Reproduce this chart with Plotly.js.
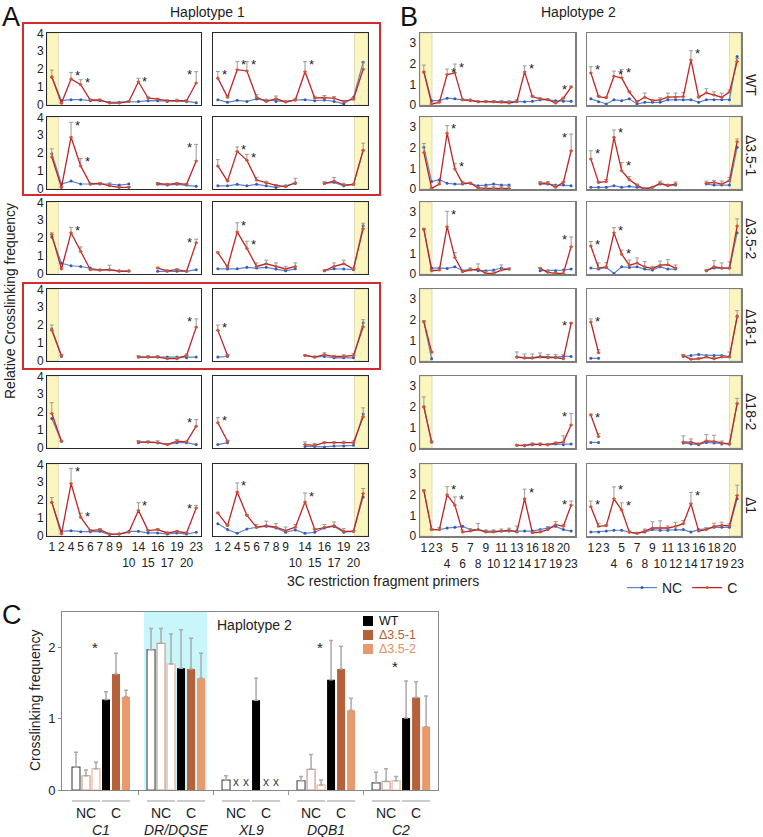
<!DOCTYPE html>
<html><head><meta charset="utf-8">
<script src="https://cdn.plot.ly/plotly-3.0.1.min.js"></script>
<style>html,body{margin:0;padding:0;background:#fff}#chart{width:763px;height:837px}</style>
</head><body><div id="chart"></div>
<script>
// ---------- categories / tick labels ----------
const catsA = ['1','2','4','5','6','7','8','9','10','14','15','16','17','19','20','23'];
const tickA = ['1','2','4','5','6','7','8','9','<br>10','14','<br>15','16','<br>17','19','<br>20','23'];
const catsB = ['1','2','3','4','5','6','7','8','9','10','11','12','13','14','16','17','18','19','20','23'];
const tickB = ['1','2','3','<br>4','5','<br>6','7','<br>8','9','<br>10','11','<br>12','13','<br>14','16','<br>17','18','<br>19','20','<br>23'];
const _ = null;

// ---------- Panel A (Haplotype 1) ----------
const A1L_C  = [1.58,0.10,1.45,1.13,0.28,0.28,0.11,0.11,0.20,1.30,0.39,0.32,0.24,0.24,0.24,1.23];
const A1L_NC = [1.55,0.24,0.30,0.30,0.24,0.24,0.15,0.15,0.19,0.19,0.24,0.24,0.20,0.24,0.20,0.13];
const A1L_E  = [0.37,0.05,0.37,0.28,0.05,0.05,0.04,0.04,0.05,0.19,0.06,0.06,0.05,0.08,0.05,0.63];
const A1L_S  = ['4','5','14','23'];
const A1R_C  = [1.50,0.43,1.97,1.90,0.43,0.19,0.35,0.17,0.28,1.86,0.39,0.41,0.37,0.20,0.32,2.00];
const A1R_NC = [0.30,0.15,0.26,0.20,0.33,0.28,0.20,0.19,0.28,0.30,0.24,0.28,0.20,0.06,0.43,2.38];
const A1R_E  = [0.37,0.08,0.45,0.52,0.15,0.10,0.15,0.06,0.10,0.56,0.10,0.12,0.10,0.06,0.10,0.40];
const A1R_S  = ['1','4','5','14'];
const A2L_C  = [1.79,0.09,2.89,1.29,0.28,0.31,0.18,0.09,0.09,_,_,0.31,0.26,0.31,0.26,1.57];
const A2L_NC = [1.97,0.28,0.44,0.28,0.28,0.28,0.28,0.22,0.28,_,_,0.26,0.22,0.26,0.22,0.15];
const A2L_E  = [0.45,0.05,0.83,0.41,0.05,0.05,0.15,0.05,0.05,_,_,0.05,0.05,0.05,0.05,0.92];
const A2L_S  = ['4','5','23'];
const A2R_C  = [1.29,0.44,2.10,1.60,0.50,0.33,0.20,0.13,0.35,_,_,0.31,0.44,0.22,0.26,2.16];
const A2R_NC = [0.18,0.18,0.26,0.18,0.26,0.18,0.09,0.18,0.31,_,_,0.31,0.37,0.18,0.26,2.16];
const A2R_E  = [0.35,0.05,0.25,0.33,0.15,0.10,0.05,0.05,0.25,_,_,0.10,0.20,0.10,0.05,0.40];
const A2R_S  = ['4','5'];
const A3L_C  = [2.20,0.28,2.30,1.25,0.24,0.22,0.24,0.15,0.15,_,_,0.33,0.18,0.24,0.15,1.74];
const A3L_NC = [2.07,0.60,0.46,0.42,0.33,0.22,0.24,0.18,0.18,_,_,0.15,0.15,0.15,0.15,0.24];
const A3L_E  = [0.10,0.05,0.30,0.26,0.05,0.05,0.25,0.05,0.05,_,_,0.05,0.05,0.05,0.05,0.20];
const A3L_S  = ['4','23'];
const A3R_C  = [1.19,0.39,2.35,1.43,0.42,0.57,0.42,0.28,0.42,_,_,0.18,0.42,0.57,0.28,2.53];
const A3R_NC = [0.29,0.28,0.29,0.37,0.33,0.37,0.28,0.18,0.29,_,_,0.18,0.29,0.28,0.24,2.70];
const A3R_E  = [0.05,0.08,0.51,0.40,0.20,0.20,0.20,0.15,0.20,_,_,0.05,0.20,0.20,0.05,0.30];
const A3R_S  = ['4','5'];
const A4L_C  = [1.71,0.31,_,_,_,_,_,_,_,0.22,0.22,0.22,0.13,0.13,0.31,1.89];
const A4L_NC = [1.80,0.25,_,_,_,_,_,_,_,0.22,0.22,0.22,0.22,0.22,0.18,0.22];
const A4L_E  = [0.30,0.05,_,_,_,_,_,_,_,0.08,0.08,0.08,0.05,0.08,0.08,0.46];
const A4L_S  = ['23'];
const A4R_C  = [1.71,0.31,_,_,_,_,_,_,_,0.31,0.22,0.36,0.25,0.25,0.31,1.91];
const A4R_NC = [0.22,0.25,_,_,_,_,_,_,_,0.31,0.22,0.25,0.18,0.18,0.18,2.13];
const A4R_E  = [0.30,0.05,_,_,_,_,_,_,_,0.05,0.05,0.10,0.05,0.10,0.10,0.40];
const A4R_S  = ['1'];
const A5L_C  = [1.93,0.38,_,_,_,_,_,_,_,0.34,0.34,0.30,0.19,0.38,0.34,1.22];
const A5L_NC = [1.65,0.38,_,_,_,_,_,_,_,0.30,0.34,0.30,0.19,0.30,0.30,0.19];
const A5L_E  = [0.60,0.05,_,_,_,_,_,_,_,0.08,0.05,0.10,0.05,0.10,0.05,0.37];
const A5L_S  = ['23'];
const A5R_C  = [1.41,0.38,_,_,_,_,_,_,_,0.19,0.15,0.30,0.30,0.30,0.30,1.74];
const A5R_NC = [0.19,0.30,_,_,_,_,_,_,_,0.09,0.09,0.06,0.11,0.11,0.15,1.90];
const A5R_E  = [0.28,0.05,_,_,_,_,_,_,_,0.15,0.10,0.05,0.05,0.08,0.10,0.50];
const A5R_S  = ['1'];
const A6L_C  = [1.88,0.11,2.93,1.05,0.30,0.36,0.11,0.11,0.21,1.43,0.30,0.36,0.17,0.26,0.17,1.56];
const A6L_NC = [1.88,0.26,0.30,0.24,0.24,0.26,0.08,0.11,0.26,0.26,0.17,0.17,0.11,0.17,0.11,0.21];
const A6L_E  = [0.26,0.05,0.85,0.23,0.05,0.05,0.04,0.05,0.05,0.43,0.05,0.05,0.05,0.05,0.05,0.15];
const A6L_S  = ['4','5','14','23'];
const A6R_C  = [1.28,0.58,2.46,1.15,0.49,0.58,0.49,0.30,0.49,1.90,0.36,0.49,0.58,0.26,0.26,2.37];
const A6R_NC = [0.68,0.36,0.15,0.39,0.49,0.54,0.45,0.21,0.34,0.15,0.21,0.45,0.53,0.21,0.26,2.18];
const A6R_E  = [0.05,0.05,0.50,0.05,0.15,0.25,0.20,0.20,0.15,0.50,0.05,0.15,0.20,0.15,0.05,0.28];
const A6R_S  = ['4','14'];

// ---------- Panel B (Haplotype 2) ----------
const B1L_C  = [1.61,0.05,0.13,1.48,1.56,0.25,0.21,0.16,0.16,0.16,0.13,0.10,0.16,1.61,0.41,0.30,0.26,0.10,0.33,0.87];
const B1L_NC = [1.61,0.21,0.21,0.33,0.30,0.25,0.25,0.16,0.18,0.16,0.16,0.16,0.18,0.16,0.18,0.25,0.25,0.21,0.18,0.18];
const B1L_E  = [0.33,0.10,0.05,0.27,0.43,0.05,0.05,0.05,0.05,0.05,0.08,0.10,0.10,0.29,0.05,0.05,0.05,0.05,0.05,0.05];
const B1L_S  = ['4','5','14','23'];
const B1R_C  = [1.56,0.41,0.35,1.40,1.32,0.63,0.16,0.38,0.21,0.25,0.38,0.38,0.41,2.19,0.38,0.59,0.49,0.38,0.63,2.11];
const B1R_NC = [0.30,0.16,0.05,0.25,0.21,0.30,0.05,0.13,0.13,0.13,0.25,0.25,0.25,0.26,0.13,0.26,0.26,0.26,0.26,2.36];
const B1R_E  = [0.30,0.05,0.05,0.25,0.41,0.05,0.05,0.20,0.05,0.10,0.20,0.20,0.20,0.45,0.05,0.20,0.15,0.20,0.10,0.15];
const B1R_S  = ['1','4','5','14'];
const B2L_C  = [1.78,0.03,0.24,2.71,0.97,0.28,0.28,0.05,0.03,0.03,0.03,0.03,_,_,_,0.29,0.28,0.08,0.32,1.86];
const B2L_NC = [2.03,0.36,0.45,0.28,0.24,0.24,0.28,0.16,0.19,0.24,0.19,0.19,_,_,_,0.24,0.24,0.19,0.19,0.16];
const B2L_E  = [0.43,0.05,0.10,0.37,0.28,0.10,0.05,0.05,0.10,0.10,0.10,0.10,_,_,_,0.08,0.08,0.10,0.05,0.81];
const B2L_S  = ['4','5','23'];
const B2R_C  = [1.46,0.32,0.36,2.51,0.89,0.45,0.19,0.00,0.08,0.28,0.16,0.24,_,_,_,0.28,0.32,0.24,0.41,2.30];
const B2R_NC = [0.08,0.08,0.08,0.16,0.08,0.13,0.08,0.03,0.08,0.24,0.19,0.19,_,_,_,0.24,0.19,0.19,0.19,2.03];
const B2R_E  = [0.40,0.05,0.10,0.36,0.40,0.15,0.05,0.05,0.05,0.10,0.05,0.10,_,_,_,0.10,0.10,0.15,0.15,0.13];
const B2R_S  = ['1','4','5'];
const B3L_C  = [2.17,0.16,0.19,2.30,0.80,0.11,0.19,0.24,0.03,0.03,0.19,0.24,_,_,_,0.27,0.08,0.03,0.03,1.33];
const B3L_NC = [2.17,0.29,0.29,0.27,0.35,0.16,0.24,0.16,0.16,0.19,0.29,0.24,_,_,_,0.16,0.16,0.16,0.19,0.24];
const B3L_E  = [0.05,0.05,0.10,0.75,0.25,0.05,0.10,0.25,0.10,0.10,0.25,0.05,_,_,_,0.05,0.10,0.05,0.15,0.47];
const B3L_S  = ['4','23'];
const B3R_C  = [1.36,0.29,0.35,2.00,0.96,0.43,0.53,0.35,0.27,0.43,0.45,0.29,_,_,_,0.16,0.35,0.29,0.29,2.33];
const B3R_NC = [0.29,0.24,0.32,0.03,0.35,0.32,0.35,0.24,0.19,0.35,0.24,0.24,_,_,_,0.16,0.29,0.29,0.29,2.00];
const B3R_E  = [0.22,0.25,0.20,0.25,0.20,0.25,0.25,0.25,0.10,0.20,0.25,0.15,_,_,_,0.05,0.30,0.25,0.30,0.35];
const B3R_S  = ['1','4','5'];
const B4L_C  = [1.91,0.43,_,_,_,_,_,_,_,_,_,_,0.19,0.14,0.14,0.19,0.16,0.16,0.11,1.83];
const B4L_NC = [1.91,0.11,_,_,_,_,_,_,_,_,_,_,0.19,0.16,0.16,0.22,0.19,0.19,0.22,0.22];
const B4L_E  = [0.05,0.05,_,_,_,_,_,_,_,_,_,_,0.25,0.20,0.20,0.20,0.15,0.15,0.20,0.05];
const B4L_S  = ['23'];
const B4R_C  = [1.90,0.40,_,_,_,_,_,_,_,_,_,_,0.27,0.08,0.11,0.19,0.11,0.19,0.19,2.15];
const B4R_NC = [0.13,0.13,_,_,_,_,_,_,_,_,_,_,0.22,0.27,0.32,0.27,0.27,0.27,0.22,2.20];
const B4R_E  = [0.15,0.15,_,_,_,_,_,_,_,_,_,_,0.05,0.05,0.05,0.05,0.05,0.05,0.25,0.30];
const B4R_S  = ['1'];
const B5L_C  = [2.00,0.29,_,_,_,_,_,_,_,_,_,_,0.13,0.13,0.19,0.19,0.16,0.24,0.29,1.12];
const B5L_NC = [2.00,0.29,_,_,_,_,_,_,_,_,_,_,0.13,0.11,0.16,0.16,0.16,0.19,0.16,0.19];
const B5L_E  = [0.48,0.05,_,_,_,_,_,_,_,_,_,_,0.05,0.05,0.05,0.05,0.05,0.05,0.30,0.56];
const B5L_S  = ['23'];
const B5R_C  = [1.60,0.56,_,_,_,_,_,_,_,_,_,_,0.29,0.29,0.19,0.35,0.32,0.24,0.19,2.16];
const B5R_NC = [0.27,0.27,_,_,_,_,_,_,_,_,_,_,0.24,0.19,0.16,0.27,0.24,0.19,0.19,2.16];
const B5R_E  = [0.05,0.15,_,_,_,_,_,_,_,_,_,_,0.30,0.15,0.05,0.30,0.30,0.10,0.05,0.25];
const B5R_S  = ['1'];
const B6L_C  = [2.20,0.31,0.31,2.00,1.50,0.19,0.24,0.31,0.19,0.19,0.24,0.28,0.19,1.81,0.16,0.19,0.31,0.55,0.47,1.50];
const B6L_NC = [2.20,0.31,0.31,0.39,0.42,0.47,0.31,0.31,0.24,0.24,0.24,0.24,0.24,0.24,0.24,0.31,0.39,0.47,0.31,0.24];
const B6L_E  = [0.05,0.05,0.10,0.40,0.40,0.10,0.10,0.30,0.10,0.10,0.10,0.10,0.30,0.47,0.05,0.10,0.15,0.15,0.10,0.20];
const B6L_S  = ['4','5','14','23'];
const B6R_C  = [1.42,0.47,0.50,1.81,1.26,0.19,0.13,0.24,0.39,0.39,0.39,0.47,0.60,1.57,0.24,0.31,0.47,0.52,0.50,1.97];
const B6R_NC = [0.19,0.20,0.24,0.28,0.28,0.19,0.13,0.19,0.31,0.28,0.28,0.31,0.31,0.19,0.31,0.35,0.42,0.42,0.42,1.81];
const B6R_E  = [0.28,0.15,0.05,0.58,0.35,0.05,0.05,0.10,0.30,0.35,0.10,0.20,0.15,0.55,0.05,0.10,0.15,0.15,0.10,0.50];
const B6R_S  = ['1','4','5','14'];
const rowLabelsB = ['WT','Δ3.5-1','Δ3.5-2','Δ18-1','Δ18-2','Δ1'];

// ---------- Panel C (bar chart) ----------
const genes   = ['C1','DR/DQSE','XL9','DQB1','C2'];
const strains = ['WT','Δ3.5-1','Δ3.5-2'];
const ncWT  = [0.32,1.97,0.14,0.13,0.10];  const ncWTe = [0.21,0.30,0.06,0.06,0.15];
const ncD1  = [0.20,2.06,null,0.29,0.12];  const ncD1e = [0.08,0.21,null,0.21,0.18];
const ncD2  = [0.30,1.77,null,0.07,0.13];  const ncD2e = [0.09,0.42,null,0.07,0.06];
const cWT   = [1.27,1.71,1.26,1.55,1.01];  const cWTe  = [0.11,0.54,0.31,0.55,0.52];
const cD1   = [1.63,1.70,null,1.70,1.30];  const cD1e  = [0.29,0.43,null,0.32,0.22];
const cD2   = [1.31,1.57,null,1.12,0.89];  const cD2e  = [0.09,0.35,null,0.17,0.43];
const sigC  = [2.0,null,null,2.0,1.73];

// ---------- layout helpers ----------
const W=763, H=837;
const FONT='Liberation Sans, Arial, Helvetica, sans-serif';
const px=x=>x/W, py=y=>1-y/H;
const ROWTOP=[33,117,202,289,376,464], ROWH=72;
const COLS={A:{L:[47,201],R:[213,368]}, B:{L:[420,575],R:[587,741]}};
const RED='#c02428', RED_M='#d2552c', BLUE='#5a82d2', BLUE_M='#3a5cae';

const panels=[
 ['A',0,'L',A1L_C,A1L_NC,A1L_E,A1L_S],['A',0,'R',A1R_C,A1R_NC,A1R_E,A1R_S],
 ['A',1,'L',A2L_C,A2L_NC,A2L_E,A2L_S],['A',1,'R',A2R_C,A2R_NC,A2R_E,A2R_S],
 ['A',2,'L',A3L_C,A3L_NC,A3L_E,A3L_S],['A',2,'R',A3R_C,A3R_NC,A3R_E,A3R_S],
 ['A',3,'L',A4L_C,A4L_NC,A4L_E,A4L_S],['A',3,'R',A4R_C,A4R_NC,A4R_E,A4R_S],
 ['A',4,'L',A5L_C,A5L_NC,A5L_E,A5L_S],['A',4,'R',A5R_C,A5R_NC,A5R_E,A5R_S],
 ['A',5,'L',A6L_C,A6L_NC,A6L_E,A6L_S],['A',5,'R',A6R_C,A6R_NC,A6R_E,A6R_S],
 ['B',0,'L',B1L_C,B1L_NC,B1L_E,B1L_S],['B',0,'R',B1R_C,B1R_NC,B1R_E,B1R_S],
 ['B',1,'L',B2L_C,B2L_NC,B2L_E,B2L_S],['B',1,'R',B2R_C,B2R_NC,B2R_E,B2R_S],
 ['B',2,'L',B3L_C,B3L_NC,B3L_E,B3L_S],['B',2,'R',B3R_C,B3R_NC,B3R_E,B3R_S],
 ['B',3,'L',B4L_C,B4L_NC,B4L_E,B4L_S],['B',3,'R',B4R_C,B4R_NC,B4R_E,B4R_S],
 ['B',4,'L',B5L_C,B5L_NC,B5L_E,B5L_S],['B',4,'R',B5R_C,B5R_NC,B5R_E,B5R_S],
 ['B',5,'L',B6L_C,B6L_NC,B6L_E,B6L_S],['B',5,'R',B6R_C,B6R_NC,B6R_E,B6R_S]
];

const traces=[], shapes=[], ann=[];
const layout={width:W,height:H,margin:{l:0,r:0,t:0,b:0},paper_bgcolor:'#fff',plot_bgcolor:'rgba(0,0,0,0)',
  font:{family:FONT,color:'#222',size:12},barmode:'group',bargap:0,bargroupgap:0.2,
  showlegend:true,
  legend:{orientation:'h',x:px(622),y:py(588),xanchor:'left',yanchor:'middle',font:{size:14,color:'#222'},itemwidth:30,bgcolor:'rgba(0,0,0,0)'}
};

panels.forEach((p,i)=>{
  const [pan,row,side,C,NC,E,S]=p;
  const k=i+1, xa='x'+k, ya='y'+k, isA=pan==='A';
  const cats=isA?catsA:catsB, ticks=isA?tickA:tickB, n=cats.length;
  const xr=COLS[pan][side], top=ROWTOP[row];
  const lc=isA?'#2a2a2a':'#7d7d7d', lw=isA?1:1.5;
  layout['xaxis'+k]={domain:[px(xr[0]),px(xr[1])],anchor:ya,type:'category',categoryorder:'array',categoryarray:cats,
    range:[-0.5,n-0.5],showline:true,mirror:true,linecolor:lc,linewidth:lw,showgrid:false,zeroline:false,ticks:'',
    tickmode:'array',tickvals:cats,ticktext:ticks,showticklabels:row===5,tickfont:{size:12,color:'#222'},tickangle:0,fixedrange:true};
  layout['yaxis'+k]={domain:[py(top+ROWH),py(top)],anchor:xa,range:isA?[0,4.02]:[0,3.5],
    tickmode:'array',tickvals:isA?[0,1,2,3,4]:[0,1,2,3],showticklabels:side==='L',tickfont:{size:12,color:'#222'},
    showline:true,mirror:true,linecolor:lc,linewidth:lw,showgrid:false,zeroline:false,ticks:'',fixedrange:true};
  const band = side==='L' ? [-0.5, isA?0.68:1.05] : [isA?14.1:18.0, n-0.5];
  shapes.push({type:'rect',xref:xa,yref:ya+' domain',x0:band[0],x1:band[1],y0:0,y1:1,
    fillcolor:'#fbf6bd',line:{color:'#d6d3b0',width:0.8},layer:'below'});
  traces.push({type:'scatter',mode:'lines+markers',x:cats,y:NC,xaxis:xa,yaxis:ya,name:'NC',legendgroup:'NC',showlegend:i===0,
    line:{color:BLUE,width:1.2},marker:{color:BLUE_M,size:3},connectgaps:false,hoverinfo:'skip'});
  traces.push({type:'scatter',mode:'lines+markers',x:cats,y:C,xaxis:xa,yaxis:ya,name:'C',legendgroup:'C',showlegend:i===0,
    line:{color:RED,width:1.3},marker:{color:RED_M,size:3},connectgaps:false,hoverinfo:'skip',
    error_y:{type:'data',symmetric:false,array:E,arrayminus:E.map(()=>0),color:'#9a9a9a',thickness:1,width:2}});
  S.forEach(c=>{
    const j=cats.indexOf(c), last=j===n-1;
    ann.push({xref:xa,yref:ya,x:j,y:C[j]+E[j],text:'*',showarrow:false,xanchor:last?'right':'left',yanchor:'middle',
      xshift:last?-2:2,yshift:-3,font:{size:13,color:'#222'}});
  });
});

// row labels panel B
const rowLabelY=[85,155,238,328,412,505];
rowLabelsB.forEach((t,i)=>ann.push({xref:'paper',yref:'paper',x:px(751),y:py(rowLabelY[i]),text:t,textangle:90,showarrow:false,
  xanchor:'center',yanchor:'middle',font:{size:14,color:'#222'}}));

// red boxes
shapes.push({type:'rect',xref:'paper',yref:'paper',x0:px(23),x1:px(380),y0:py(195),y1:py(23),line:{color:'#d42b2b',width:2}});
shapes.push({type:'rect',xref:'paper',yref:'paper',x0:px(23),x1:px(380),y0:py(369),y1:py(283),line:{color:'#d42b2b',width:2}});

// text
const txt=(x,y,t,o)=>ann.push(Object.assign({xref:'paper',yref:'paper',x:px(x),y:py(y),text:t,showarrow:false},o||{}));
txt(0,0,'A',{xanchor:'left',yanchor:'top',font:{size:27,color:'#111'}});
txt(398,0,'B',{xanchor:'left',yanchor:'top',font:{size:27,color:'#111'}});
txt(0,598,'C',{xanchor:'left',yanchor:'top',font:{size:27,color:'#111'}});
txt(207,12,'Haplotype 1',{xanchor:'center',yanchor:'middle',font:{size:14}});
txt(578,12,'Haplotype 2',{xanchor:'center',yanchor:'middle',font:{size:14}});
txt(10,301,'Relative Crosslinking frequency',{textangle:-90,xanchor:'center',yanchor:'middle',font:{size:14}});
txt(383,581,'3C restriction fragment primers',{xanchor:'center',yanchor:'middle',font:{size:14}});

// ---------- Panel C ----------
const K='25', XA='x'+K, YA='y'+K;
const xNC=genes.map((g,i)=>i*2.5), xC=genes.map((g,i)=>i*2.5+1);
layout['xaxis'+K]={domain:[px(62),px(438)],anchor:YA,range:[-0.8,11.73],showticklabels:false,
  tickmode:'array',tickvals:genes.slice(1).map((g,i)=>i*2.5+1.75),ticks:'outside',ticklen:4,tickcolor:'#999',
  showline:true,mirror:true,linecolor:'#888',linewidth:1,showgrid:false,zeroline:false,fixedrange:true};
layout['yaxis'+K]={domain:[py(790),py(612)],anchor:XA,range:[0,2.5],tickmode:'array',tickvals:[0,1,2],
  tickfont:{size:13,color:'#222'},ticks:'outside',ticklen:3,tickcolor:'#888',
  showline:true,mirror:true,linecolor:'#888',linewidth:1,showgrid:false,zeroline:false,fixedrange:true};
const fills=['#000000','#b5613a','#e99a6c'], ncLines=['#555555','#c9a08c','#ecb598'];
const ncV=[ncWT,ncD1,ncD2], ncE=[ncWTe,ncD1e,ncD2e], cV=[cWT,cD1,cD2], cE=[cWTe,cD1e,cD2e];
strains.forEach((s,si)=>{
  traces.push({type:'bar',x:xNC,y:ncV[si],xaxis:XA,yaxis:YA,offsetgroup:s,showlegend:false,name:s+' NC',
    marker:{color:'#ffffff',line:{color:ncLines[si],width:1.2}},hoverinfo:'skip',
    error_y:{type:'data',symmetric:false,array:ncE[si],arrayminus:ncE[si].map(()=>0),color:'#aaaaaa',thickness:1.5,width:2}});
  traces.push({type:'bar',x:xC,y:cV[si],xaxis:XA,yaxis:YA,offsetgroup:s,showlegend:false,name:s+' C',
    marker:{color:fills[si],line:{width:0}},hoverinfo:'skip',
    error_y:{type:'data',symmetric:false,array:cE[si],arrayminus:cE[si].map(()=>0),color:'#aaaaaa',thickness:1.5,width:2}});
});
const gi=genes.indexOf('DR/DQSE');
shapes.push({type:'rect',xref:XA,yref:YA+' domain',x0:gi*2.5-0.57,x1:gi*2.5+1.53,y0:0,y1:1,fillcolor:'#c8f6fa',line:{width:0},layer:'below'});
[[ncV,xNC],[cV,xC]].forEach(([vals,xs])=>{
  vals.forEach((arr,si)=>arr.forEach((v,gj)=>{
    if(v===null) ann.push({xref:XA,yref:YA,x:xs[gj]+(si-1)/3,y:0,text:'x',showarrow:false,yanchor:'bottom',yshift:-1,font:{size:12,color:'#444'}});
  }));
});
sigC.forEach((v,gj)=>{ if(v!==null) ann.push({xref:XA,yref:YA,x:xNC[gj]+0.3,y:v,text:'*',showarrow:false,yanchor:'middle',font:{size:15,color:'#222'}}); });
genes.forEach((g,gj)=>{
  [[xNC[gj],'NC'],[xC[gj],'C']].forEach(([xx,t])=>{
    shapes.push({type:'line',xref:XA,yref:'paper',x0:xx-0.47,x1:xx+0.47,y0:py(801),y1:py(801),line:{color:'#999',width:1}});
    ann.push({xref:XA,yref:'paper',x:xx,y:py(813),text:t,showarrow:false,yanchor:'middle',font:{size:14,color:'#222'}});
  });
  ann.push({xref:XA,yref:'paper',x:(xNC[gj]+xC[gj])/2,y:py(830),text:'<i>'+g+'</i>',showarrow:false,yanchor:'middle',font:{size:14,color:'#222'}});
});
txt(35,700,'Crosslinking frequency',{textangle:-90,xanchor:'center',yanchor:'middle',font:{size:14}});
txt(255,625,'Haplotype 2',{xanchor:'center',yanchor:'middle',font:{size:14}});
const legY=[621,635,649], legCol=['#111111','#b5613a','#e0915f'];
strains.forEach((s,si)=>{
  shapes.push({type:'rect',xref:'paper',yref:'paper',x0:px(363),x1:px(373),y0:py(legY[si]+5),y1:py(legY[si]-5),fillcolor:fills[si],line:{width:0}});
  txt(377,legY[si],s,{xanchor:'left',yanchor:'middle',font:{size:12.5,color:legCol[si]}});
});

layout.shapes=shapes; layout.annotations=ann;
Plotly.newPlot('chart',traces,layout,{staticPlot:true,displayModeBar:false});
</script></body></html>
